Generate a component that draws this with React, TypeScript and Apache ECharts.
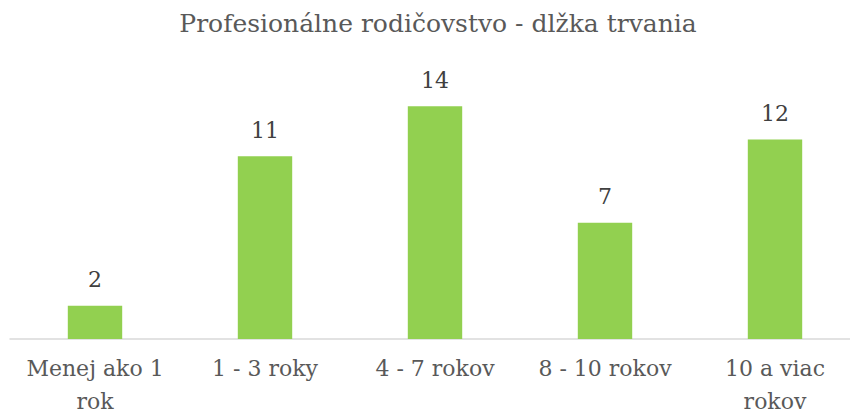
import React, { useEffect, useRef } from "react";
import * as echarts from "echarts";

const categories = ["Menej ako 1\nrok", "1 - 3 roky", "4 - 7 rokov", "8 - 10 rokov", "10 a viac\nrokov"];
const values = [2, 11, 14, 7, 12];
const title = "Profesionálne rodičovstvo - dlžka trvania";

const SERIF = "DejaVu Serif";

export default function App() {
  const ref = useRef<HTMLDivElement>(null);
  useEffect(() => {
    document.body.style.margin = "0";
    document.body.style.overflow = "hidden";
    const chart = echarts.init(ref.current!, null, { renderer: "svg" });
    chart.setOption({
      animation: false,
      backgroundColor: "#ffffff",
      title: {
        text: title,
        left: 433,
        textAlign: "center",
        top: 6,
        textStyle: { fontFamily: SERIF, fontSize: 25, fontWeight: "normal", color: "#595959" },
      },
      grid: { left: 10, right: 0, top: 73, bottom: 78 },
      xAxis: {
        type: "category",
        data: categories,
        axisLine: { lineStyle: { color: "#D9D9D9", width: 1.5 } },
        axisTick: { show: false },
        axisLabel: {
          fontFamily: SERIF,
          fontSize: 22,
          color: "#595959",
          lineHeight: 33,
          margin: 13,
          interval: 0,
        },
      },
      yAxis: { type: "value", min: 0, max: 16, show: false, splitLine: { show: false } },
      series: [
        {
          type: "bar",
          data: values,
          barWidth: "32%",
          itemStyle: { color: "#92D050" },
          label: {
            show: true,
            position: "top",
            distance: 15,
            fontFamily: SERIF,
            fontSize: 22,
            color: "#404040",
          },
        },
      ],
    });
    return () => chart.dispose();
  }, []);
  return <div ref={ref} style={{ width: 860, height: 418 }} />;
}
